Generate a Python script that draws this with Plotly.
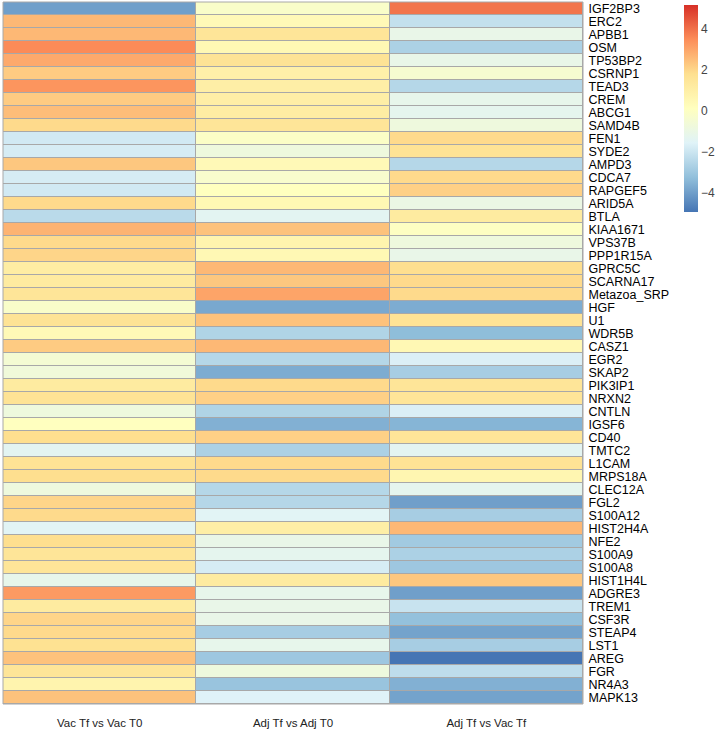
import plotly.graph_objects as go

genes = ["IGF2BP3", "ERC2", "APBB1", "OSM", "TP53BP2", "CSRNP1", "TEAD3", "CREM", "ABCG1", "SAMD4B",
         "FEN1", "SYDE2", "AMPD3", "CDCA7", "RAPGEF5", "ARID5A", "BTLA", "KIAA1671", "VPS37B", "PPP1R15A",
         "GPRC5C", "SCARNA17", "Metazoa_SRP", "HGF", "U1", "WDR5B", "CASZ1", "EGR2", "SKAP2", "PIK3IP1",
         "NRXN2", "CNTLN", "IGSF6", "CD40", "TMTC2", "L1CAM", "MRPS18A", "CLEC12A", "FGL2", "S100A12",
         "HIST2H4A", "NFE2", "S100A9", "S100A8", "HIST1H4L", "ADGRE3", "TREM1", "CSF3R", "STEAP4", "LST1",
         "AREG", "FGR", "NR4A3", "MAPK13"]

comparisons = ["Vac Tf vs Vac T0", "Adj Tf vs Adj T0", "Adj Tf vs Vac Tf"]

vac_tf_vs_vac_t0 = [-4.0, 2.6, 2.6, 3.5, 2.9, 2.2, 3.3, 2.2, 2.5, 1.9,
                    -1.9, -1.8, 2.3, -1.8, -1.9, 1.9, -2.4, 2.7, 1.9, 2.0,
                    1.1, 1.2, 1.5, -0.2, 1.6, 0.4, 2.2, -0.5, -0.7, 1.2,
                    1.6, -0.8, 0.1, 1.8, -1.4, 1.6, 1.8, -0.8, 2.0, 1.9,
                    -1.5, 1.8, 1.5, 1.5, -1.2, 3.2, 1.2, 2.0, 1.9, 1.7,
                    2.4, 1.5, 0.7, 2.4]

adj_tf_vs_adj_t0 = [-0.2, 0.4, 1.5, 0.5, 1.6, 0.9, 1.0, 1.0, 1.1, 1.5,
                    -0.1, -0.8, 0.4, -0.3, 0.1, 0.5, -1.4, 2.4, 0.7, 0.5,
                    2.6, 2.3, 3.0, -3.8, 2.4, -2.6, 2.6, -2.5, -3.7, 1.9,
                    2.1, -2.6, -3.6, 2.1, -2.7, 1.9, 1.9, -2.5, -2.5, -1.5,
                    1.0, -1.1, -1.3, -1.8, 1.2, -1.2, -1.1, -1.1, -2.8, -1.2,
                    -3.0, -0.8, -3.1, -1.6]

adj_tf_vs_vac_tf = [3.9, -2.2, -1.1, -2.7, -1.1, -0.4, -2.5, -1.2, -1.3, -0.8,
                    1.9, 1.6, -2.5, 1.9, 2.1, -1.0, 1.2, 0.0, -0.8, -1.1,
                    1.8, 1.9, 1.9, -3.7, 1.6, -3.3, 0.5, -1.7, -2.8, 1.5,
                    1.5, -1.7, -3.5, 1.5, -1.4, 1.6, 0.6, -1.3, -4.0, -2.8,
                    2.6, -2.9, -2.7, -3.0, 2.3, -4.0, -2.1, -3.2, -3.9, -2.8,
                    -4.95, -2.3, -3.6, -3.9]

colorbar_ticks = [-4, -2, 0, 2, 4]

z = [[a, b, c] for a, b, c in zip(vac_tf_vs_vac_t0, adj_tf_vs_adj_t0, adj_tf_vs_vac_tf)]

palette = ["#4575B4", "#91BFDB", "#E0F3F8", "#FFFFBF", "#FEE090", "#FC8D59", "#D73027"]
colorscale = [[i / (len(palette) - 1), c] for i, c in enumerate(palette)]

W, H = 723, 733
left, right_edge, top, bottom_edge = 3, 583, 2, 704
pw = right_edge - left
ph = bottom_edge - top

fig = go.Figure(go.Heatmap(
    z=z, x=comparisons, y=genes,
    colorscale=colorscale, zmin=-4.95, zmax=5.15,
    xgap=1, ygap=1,
    colorbar=dict(
        x=(684 - left) / pw, xanchor="left", xpad=0, ypad=0,
        y=(bottom_edge - 5) / ph, yanchor="top",
        len=207 / ph, lenmode="fraction",
        thickness=14, outlinewidth=0,
        tickvals=colorbar_ticks, ticks="",
        tickfont=dict(size=12, color="#444444", family="Liberation Sans"),
    ),
    hoverongaps=False,
))

fig.update_layout(
    width=W, height=H,
    margin=dict(l=left, r=W - right_edge, t=top, b=H - bottom_edge, pad=0, autoexpand=False),
    paper_bgcolor="white",
    plot_bgcolor="#A8A8A8",
    font=dict(family="Liberation Sans", color="black"),
    xaxis=dict(side="bottom", showgrid=False, zeroline=False,
               tickmode="array", tickvals=comparisons,
               ticks="outside", ticklen=8, tickcolor="rgba(0,0,0,0)",
               tickfont=dict(size=11.5, color="#222222")),
    yaxis=dict(side="right", autorange="reversed", showgrid=False, zeroline=False,
               tickmode="array", tickvals=genes,
               ticks="outside", ticklen=2, tickcolor="rgba(0,0,0,0)",
               tickfont=dict(size=12.5, color="black")),
    shapes=[dict(type="rect", xref="paper", yref="paper", x0=0, x1=1, y0=0, y1=1,
                 line=dict(color="#A8A8A8", width=1))],
)

fig.write_html("out.html", config={"displayModeBar": False},
               post_script="document.body.style.margin='0';document.body.style.overflow='hidden';")
